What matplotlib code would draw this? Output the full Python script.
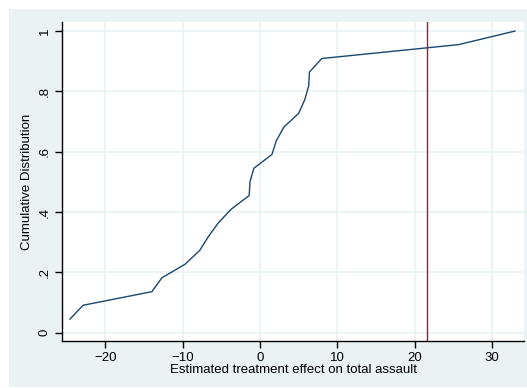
import matplotlib.pyplot as plt
from matplotlib.patches import Rectangle

# estimated effects (sorted) and their cumulative share
effects = [-24.6, -22.9, -14.0, -12.7, -9.7, -7.8, -6.7, -5.4, -3.75, -1.4, -1.3,
           -0.8, 1.55, 2.1, 3.1, 5.0, 5.8, 6.3, 6.4, 8.0, 25.7, 33.0]
cum_share = [0.045, 0.091, 0.136, 0.182, 0.227, 0.273, 0.318, 0.364, 0.409, 0.455, 0.5,
             0.545, 0.591, 0.636, 0.682, 0.727, 0.773, 0.818, 0.864, 0.909, 0.955, 1.0]
actual_effect = 21.65

xticks = [-20, -10, 0, 10, 20, 30]
yticks = [0, 0.2, 0.4, 0.6, 0.8, 1.0]
ytick_labels = ['0', '.2', '.4', '.6', '.8', '1']

plt.rcParams['font.family'] = ['Liberation Sans', 'DejaVu Sans']

bg = '#eaf2f3'
navy = '#1a476f'

fig = plt.figure(figsize=(5.27, 3.88), dpi=100, facecolor='white')
fig.patches.append(Rectangle((9 / 527, 1 / 388), 518 / 527, 378 / 388,
                             transform=fig.transFigure, facecolor=bg,
                             edgecolor='none', zorder=-10))

ax = fig.add_axes([62 / 527, 47 / 388, 462 / 527, 319 / 388])
ax.set_facecolor('white')
ax.set_zorder(5)

ax.plot(effects, cum_share, color=navy, lw=1.0, zorder=3)
ax.axvline(actual_effect, color='#b5122e', lw=1.0, zorder=3)

ax.set_xlim(-25.63, 34.17)
ax.set_ylim(-0.0275, 1.030)
ax.set_xticks(xticks)
ax.set_xticklabels(['\u221220', '\u221210', '0', '10', '20', '30'])
ax.set_yticks(yticks)
ax.set_yticklabels(ytick_labels, rotation=90, va='center')

ax.grid(True, color=bg, lw=1.3, zorder=1)
ax.set_axisbelow(True)

for side in ['top', 'right']:
    ax.spines[side].set_visible(False)
for side in ['left', 'bottom']:
    ax.spines[side].set_color('black')
    ax.spines[side].set_linewidth(1.0)

ax.tick_params(direction='out', length=5, width=1.0, labelsize=9.5, pad=3)

ax.set_xlabel('Estimated treatment effect on total assault', fontsize=9.5, labelpad=0)
ax.set_ylabel('Cumulative Distribution', fontsize=9.5, labelpad=4)

fig.savefig('out.png', dpi=100, facecolor=fig.get_facecolor())
